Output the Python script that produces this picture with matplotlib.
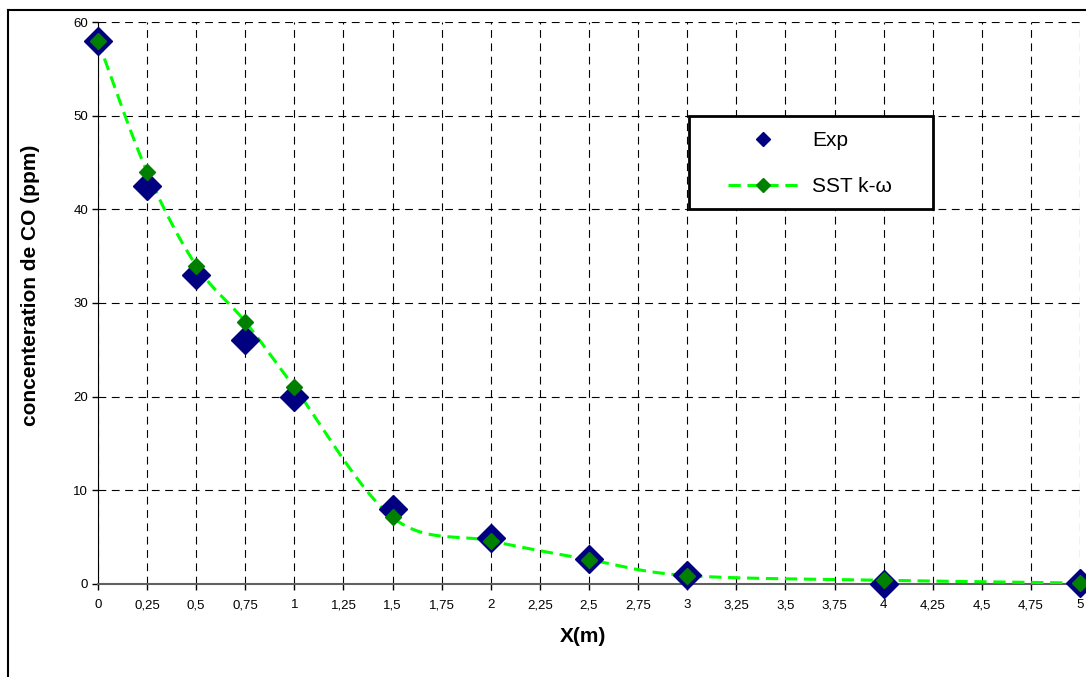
import matplotlib
matplotlib.use('Agg')
import matplotlib.pyplot as plt
from matplotlib.lines import Line2D
from matplotlib.patches import Rectangle
from matplotlib.ticker import FuncFormatter
import numpy as np

plt.rcParams['font.family'] = ['Liberation Sans', 'DejaVu Sans']

x_pos = [0, 0.25, 0.5, 0.75, 1, 1.5, 2, 2.5, 3, 4, 5]
co_exp = [58, 42.5, 33, 26, 20, 8, 4.9, 2.7, 1.0, 0.0, 0.1]
co_sst = [58, 44, 34, 28, 21, 7.1, 4.6, 2.6, 0.9, 0.4, 0.1]

x_ticks = np.arange(0, 5.01, 0.25)
y_ticks = [0, 10, 20, 30, 40, 50, 60]


def excel_smooth(xs, ys, n=40):
    # catmull-rom style bezier, like excel's "smoothed line"
    p = np.column_stack([xs, ys]).astype(float)
    pts = [p[0]]
    for i in range(len(p) - 1):
        p0 = p[i - 1] if i > 0 else p[i]
        p1, p2 = p[i], p[i + 1]
        p3 = p[i + 2] if i + 2 < len(p) else p[i + 1]
        c1 = p1 + (p2 - p0) / 6.0
        c2 = p2 - (p3 - p1) / 6.0
        t = np.linspace(0, 1, n)[1:, None]
        seg = ((1 - t) ** 3) * p1 + 3 * ((1 - t) ** 2) * t * c1 + 3 * (1 - t) * t ** 2 * c2 + t ** 3 * p2
        pts.extend(seg)
    pts = np.array(pts)
    return pts[:, 0], pts[:, 1]


fig = plt.figure(figsize=(10.86, 6.77), dpi=100)
ax = fig.add_axes([0.0902, 0.1374, 0.9043, 0.8301])

# outer chart frame (cut off at right/bottom like the original)
fig.add_artist(Line2D([8 / 1086, 1.2], [1 - 10 / 677, 1 - 10 / 677], color='black', lw=1.5,
                      transform=fig.transFigure))
fig.add_artist(Line2D([8 / 1086, 8 / 1086], [1 - 10 / 677, -0.2], color='black', lw=1.5,
                      transform=fig.transFigure))

sx, sy = excel_smooth(x_pos, co_sst)
ax.plot(sx, sy, color='#00FF00', lw=2.2, dashes=(4, 2.2), zorder=3)

ax.plot(x_pos, co_exp, linestyle='none', marker='D', ms=14.5, color='#000080',
        mec='#000080', zorder=4, clip_on=False)
ax.plot(x_pos, co_sst, linestyle='none', marker='D', ms=8.5, color='#008000',
        mec='#008000', zorder=5, clip_on=False)

ax.set_xlim(0, 5)
ax.set_ylim(0, 60)
ax.set_xticks(x_ticks)
ax.set_yticks(y_ticks)
ax.xaxis.set_major_formatter(FuncFormatter(lambda v, p: ('%g' % v).replace('.', ',')))
ax.tick_params(axis='both', labelsize=9.5, length=4, width=1, direction='out', pad=3)
ax.tick_params(axis='x', pad=7)

ax.grid(True, color='black', lw=0.8, linestyle=(0, (7, 5)))
ax.set_axisbelow(True)
for s in ['top', 'right']:
    ax.spines[s].set_visible(False)
ax.spines['left'].set_color('black')
ax.spines['bottom'].set_color('#606060')
ax.spines['bottom'].set_linewidth(1.5)

ax.set_xlabel('X(m)', fontsize=15, fontweight='bold')
ax.xaxis.set_label_coords((583 - 98) / 982, (584 - 627) / 562)
ax.set_ylabel('concenteration de CO (ppm)', fontsize=15, fontweight='bold')
ax.yaxis.set_label_coords((40 - 98) / 982, (584 - 285) / 562)

# legend box drawn separately so it has the same extent as the original
ax.add_patch(Rectangle(((689 - 98) / 982, (584 - 209) / 562), 244 / 982, 93 / 562,
                       transform=ax.transAxes, facecolor='white', edgecolor='black',
                       lw=2, zorder=6))
h_exp = Line2D([], [], linestyle='none', marker='D', ms=7.6, color='#000080')
h_sst = Line2D([], [], color='#00FF00', lw=2.2, dashes=(4, 2.2), marker='D', ms=7.2,
               mfc='#008000', mec='#008000')
leg = ax.legend([h_exp, h_sst], ['Exp', 'SST k-ω'], loc='center left',
                bbox_to_anchor=((728 - 98) / 982, (584 - 163.5) / 562),
                fontsize=15, frameon=False, borderaxespad=0, borderpad=0,
                handlelength=3.4, labelspacing=1.3, handletextpad=0.65)
leg.set_zorder(7)

fig.savefig('out.png', dpi=100)
